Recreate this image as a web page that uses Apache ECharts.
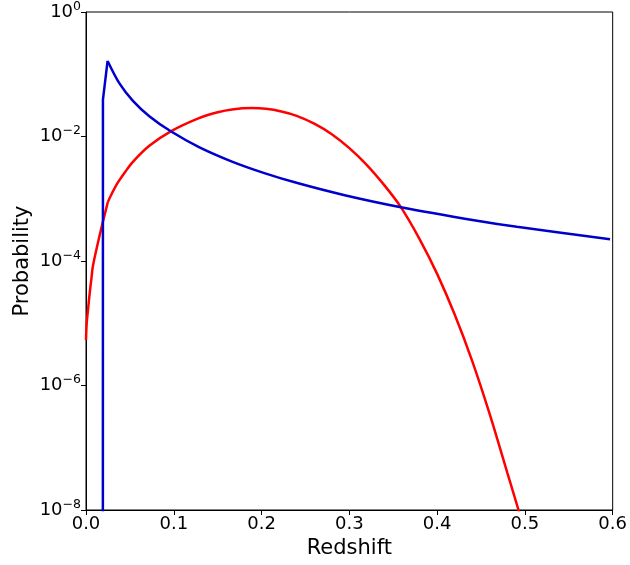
<!DOCTYPE html>
<html>
<head>
<meta charset="utf-8">
<script src="https://cdn.jsdelivr.net/npm/echarts@6/dist/echarts.min.js"></script>
<style>html,body{margin:0;padding:0;background:#fff}#c{width:630px;height:565px}</style>
</head>
<body>
<div id="c"></div>
<script>
// Blue curve: sharp rise part and decaying part
var blueRiseZ = [0.0192, 0.0193, 0.0246];
var blueRiseP = [1e-10, 3.9e-2, 1.637e-1];
var blueTailZ = [0.0246, 0.0381, 0.0532, 0.0721, 0.0966, 0.1287, 0.1663, 0.2041, 0.2418, 0.2947, 0.3587, 0.4455, 0.4908, 0.5970];
var blueTailP = [1.637e-1, 7.13e-2, 3.78e-2, 2.12e-2, 1.213e-2, 6.76e-3, 3.96e-3, 2.56e-3, 1.77e-3, 1.14e-3, 7.31e-4, 4.44e-4, 3.54e-4, 2.23e-4];
// Red curve: low-z rise and the broad hump
var redRiseZ = [0.0000, 0.0008, 0.0023, 0.0042, 0.0061, 0.0079, 0.0155, 0.0249];
var redRiseP = [5.37e-6, 1.00e-5, 1.66e-5, 3.02e-5, 5.13e-5, 8.32e-5, 2.57e-4, 8.87e-4];
var redHumpZ = [0.0249, 0.0300, 0.0362, 0.0450, 0.0532, 0.0721, 0.0966, 0.1287, 0.1500, 0.1663, 0.1886, 0.2050, 0.2226, 0.2400, 0.2600, 0.2800, 0.3000, 0.3200, 0.3400, 0.3587, 0.3800, 0.4000, 0.4200, 0.4400, 0.4600, 0.4800, 0.4927, 0.5000];
var redHumpP = [8.87e-4, 1.26e-3, 1.82e-3, 2.75e-3, 3.89e-3, 7.08e-3, 1.21e-2, 1.97e-2, 2.45e-2, 2.72e-2, 2.86e-2, 2.78e-2, 2.52e-2, 2.15e-2, 1.61e-2, 1.09e-2, 6.50e-3, 3.48e-3, 1.64e-3, 7.33e-4, 2.25e-4, 6.21e-5, 1.38e-5, 2.47e-6, 3.44e-7, 3.95e-8, 1.0e-8, 4.4e-9];
var xTicks = ['0.0', '0.1', '0.2', '0.3', '0.4', '0.5', '0.6'];
var yTickExponents = ['\u22128', '\u22126', '\u22124', '\u22122', '0'];

function pairs(xs, ys) { return xs.map(function (x, i) { return [x, ys[i]]; }); }

var font = 'DejaVu Sans';
var chart = echarts.init(document.getElementById('c'), null, {renderer: 'canvas'});
var blue = '#0000cc', red = '#ff0000';
chart.setOption({
  animation: false,
  grid: {left: 86, right: 13, top: 6, bottom: 55, show: true, borderColor: '#000', borderWidth: 1, backgroundColor: 'transparent'},
  xAxis: {
    type: 'value', min: 0, max: 0.6, interval: 0.1,
    name: 'Redshift', nameLocation: 'middle', nameGap: 27,
    nameTextStyle: {fontFamily: font, fontSize: 21, color: '#000'},
    axisLine: {show: true, onZero: false, lineStyle: {color: '#000', width: 1}},
    axisTick: {show: true, length: 5, lineStyle: {color: '#000'}},
    axisLabel: {fontFamily: font, fontSize: 18, color: '#000', margin: 5,
      formatter: function (v) { return xTicks[Math.round(v * 10)]; }},
    splitLine: {show: false}
  },
  yAxis: {
    type: 'log', logBase: 10, min: 1e-8, max: 1, interval: 2,
    name: 'Probability', nameLocation: 'middle', nameGap: 53, nameMoveOverlap: false,
    nameTextStyle: {fontFamily: font, fontSize: 21, color: '#000'},
    axisLine: {show: true, lineStyle: {color: '#000', width: 1}},
    axisTick: {show: true, length: 5, lineStyle: {color: '#000'}},
    axisLabel: {fontFamily: font, color: '#000', margin: 5,
      formatter: function (v) {
        var k = Math.round(Math.log10(v));
        var e = yTickExponents[(k + 8) / 2];
        return '{b|10}{s|' + e + '}';
      },
      rich: {
        b: {fontFamily: font, fontSize: 18, color: '#000'},
        s: {fontFamily: font, fontSize: 12.5, color: '#000', padding: [0, 0, 11, 0]}
      }
    },
    splitLine: {show: false}
  },
  series: [
    {type: 'line', data: pairs(redRiseZ, redRiseP), showSymbol: false, smooth: 0.3, clip: true, lineStyle: {color: red, width: 2.5}, z: 2},
    {type: 'line', data: pairs(redHumpZ, redHumpP), showSymbol: false, smooth: 0.3, clip: true, lineStyle: {color: red, width: 2.5}, z: 2},
    {type: 'line', data: pairs(blueRiseZ, blueRiseP), showSymbol: false, clip: true, lineStyle: {color: blue, width: 2.5}, z: 3},
    {type: 'line', data: pairs(blueTailZ, blueTailP), showSymbol: false, smooth: 0.3, clip: true, lineStyle: {color: blue, width: 2.5}, z: 3}
  ]
});
</script>
</body>
</html>
